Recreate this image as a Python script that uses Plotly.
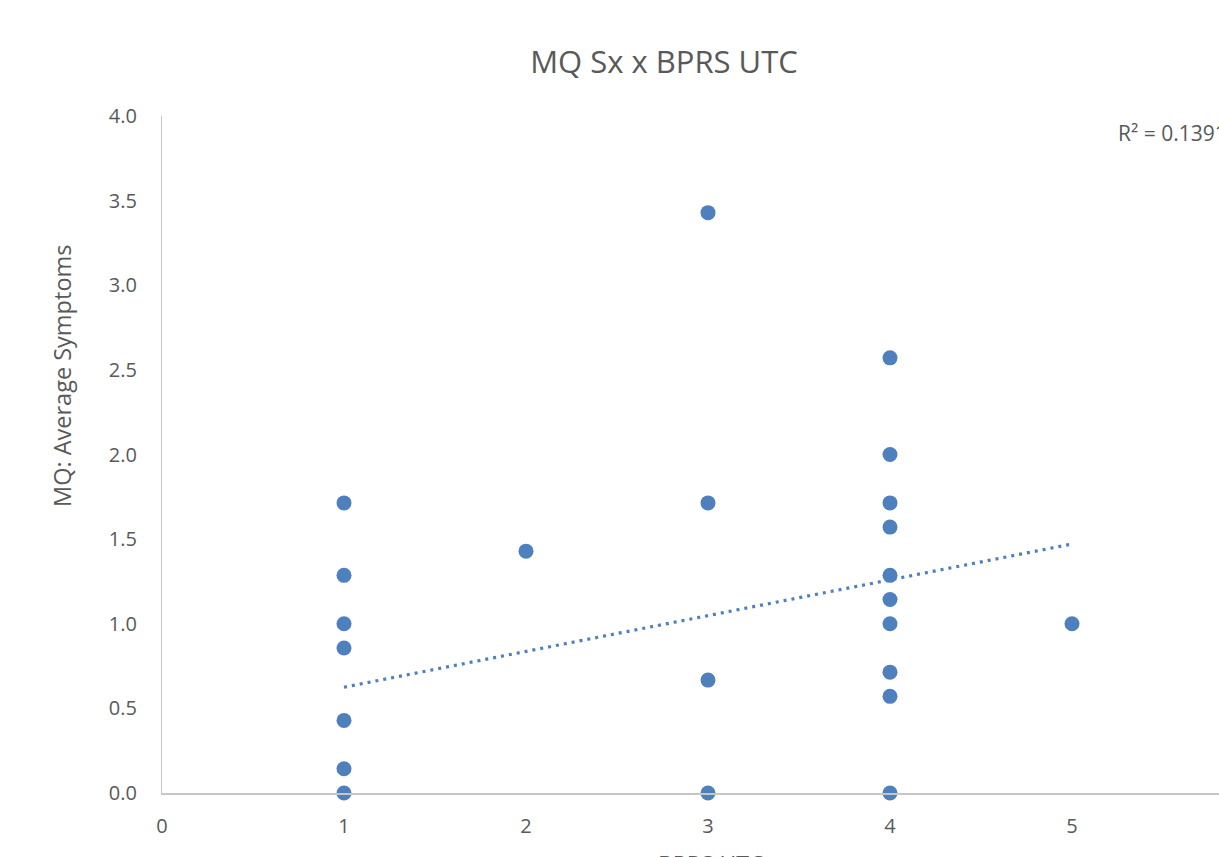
import plotly.graph_objects as go

# BPRS UTC rating (x) and MQ average symptom score (y), one entry per participant
bprs_utc = [1, 1, 1, 1, 1, 1, 1,
            2,
            3, 3, 3, 3,
            4, 4, 4, 4, 4, 4, 4, 4, 4, 4,
            5]
mq_avg_symptoms = [1.714, 1.286, 1.0, 0.857, 0.429, 0.143, 0.0,
                   1.429,
                   3.429, 1.714, 0.667, 0.0,
                   2.571, 2.0, 1.714, 1.571, 1.286, 1.143, 1.0, 0.714, 0.571, 0.0,
                   1.0]

# Linear trendline end points (over the observed x range) and its fit statistic
trend_x = [1, 5]
trend_y = [0.625, 1.471]
r_squared_label = "R² = 0.1391"

y_ticks = [0.0, 0.5, 1.0, 1.5, 2.0, 2.5, 3.0, 3.5, 4.0]
x_ticks = [0, 1, 2, 3, 4, 5]

W, H = 1219, 857
M_L, M_R, M_T, M_B = 162, 0, 116, 64
PX_PER_X = 182.0
x_max = (W - M_L - M_R) / PX_PER_X
plot_w = W - M_L - M_R
plot_h = H - M_T - M_B


def px_x(px):
    """Horizontal pixel position -> paper fraction of the plot area."""
    return (px - M_L) / plot_w


def px_y(px):
    """Vertical pixel position (from top) -> paper fraction of the plot area."""
    return (H - M_B - px) / plot_h


blue = "#4e80bd"
grey_text = "#595959"
axis_grey = "#c6c6c6"
font_family = "Open Sans, Noto Sans, sans-serif"

fig = go.Figure()

fig.add_trace(go.Scatter(
    x=trend_x, y=trend_y, mode="lines",
    line=dict(color=blue, width=3.2, dash="3px,5px"),
    hoverinfo="skip", showlegend=False,
))

fig.add_trace(go.Scatter(
    x=bprs_utc, y=mq_avg_symptoms, mode="markers",
    marker=dict(color=blue, size=15, line=dict(width=0)),
    cliponaxis=False, showlegend=False,
))

fig.update_layout(
    width=W, height=H,
    margin=dict(l=M_L, r=M_R, t=M_T, b=M_B),
    paper_bgcolor="white", plot_bgcolor="white",
    font=dict(family=font_family, color=grey_text),
    showlegend=False,
    title=dict(
        text="MQ Sx x BPRS UTC",
        font=dict(size=31, color=grey_text, family=font_family),
        x=px_x(664), xanchor="center", xref="paper",
        y=1 - 62 / H, yanchor="middle", yref="container",
    ),
    xaxis=dict(
        range=[0, x_max], tickvals=x_ticks, ticktext=[str(v) for v in x_ticks],
        showgrid=False, zeroline=False,
        showline=True, linecolor=axis_grey, linewidth=1.5,
        ticks="", ticklabelstandoff=14,
        tickfont=dict(size=20, color=grey_text),
        automargin=False,
    ),
    yaxis=dict(
        range=[0, 4.0], tickvals=y_ticks, ticktext=[f"{v:.1f}" for v in y_ticks],
        showgrid=False, zeroline=False,
        showline=True, linecolor=axis_grey, linewidth=1.2,
        ticks="", ticklabelstandoff=20,
        tickfont=dict(size=20, color=grey_text),
        automargin=False,
    ),
    annotations=[
        dict(
            text=r_squared_label, showarrow=False,
            xref="paper", yref="paper",
            x=px_x(1116), xanchor="left",
            y=px_y(133), yanchor="middle",
            font=dict(size=21, color=grey_text, family=font_family),
        ),
        dict(
            text="MQ: Average Symptoms", showarrow=False, textangle=-90,
            xref="paper", yref="paper",
            x=px_x(62), xanchor="center",
            y=px_y(376), yanchor="middle",
            font=dict(size=23.5, color=grey_text, family=font_family),
        ),
        dict(
            text="BPRS UTC", showarrow=False,
            xref="paper", yref="paper",
            x=px_x(710), xanchor="center",
            y=px_y(864), yanchor="middle",
            font=dict(size=23, color=grey_text, family=font_family),
        ),
    ],
)

fig.write_html("out.html")
